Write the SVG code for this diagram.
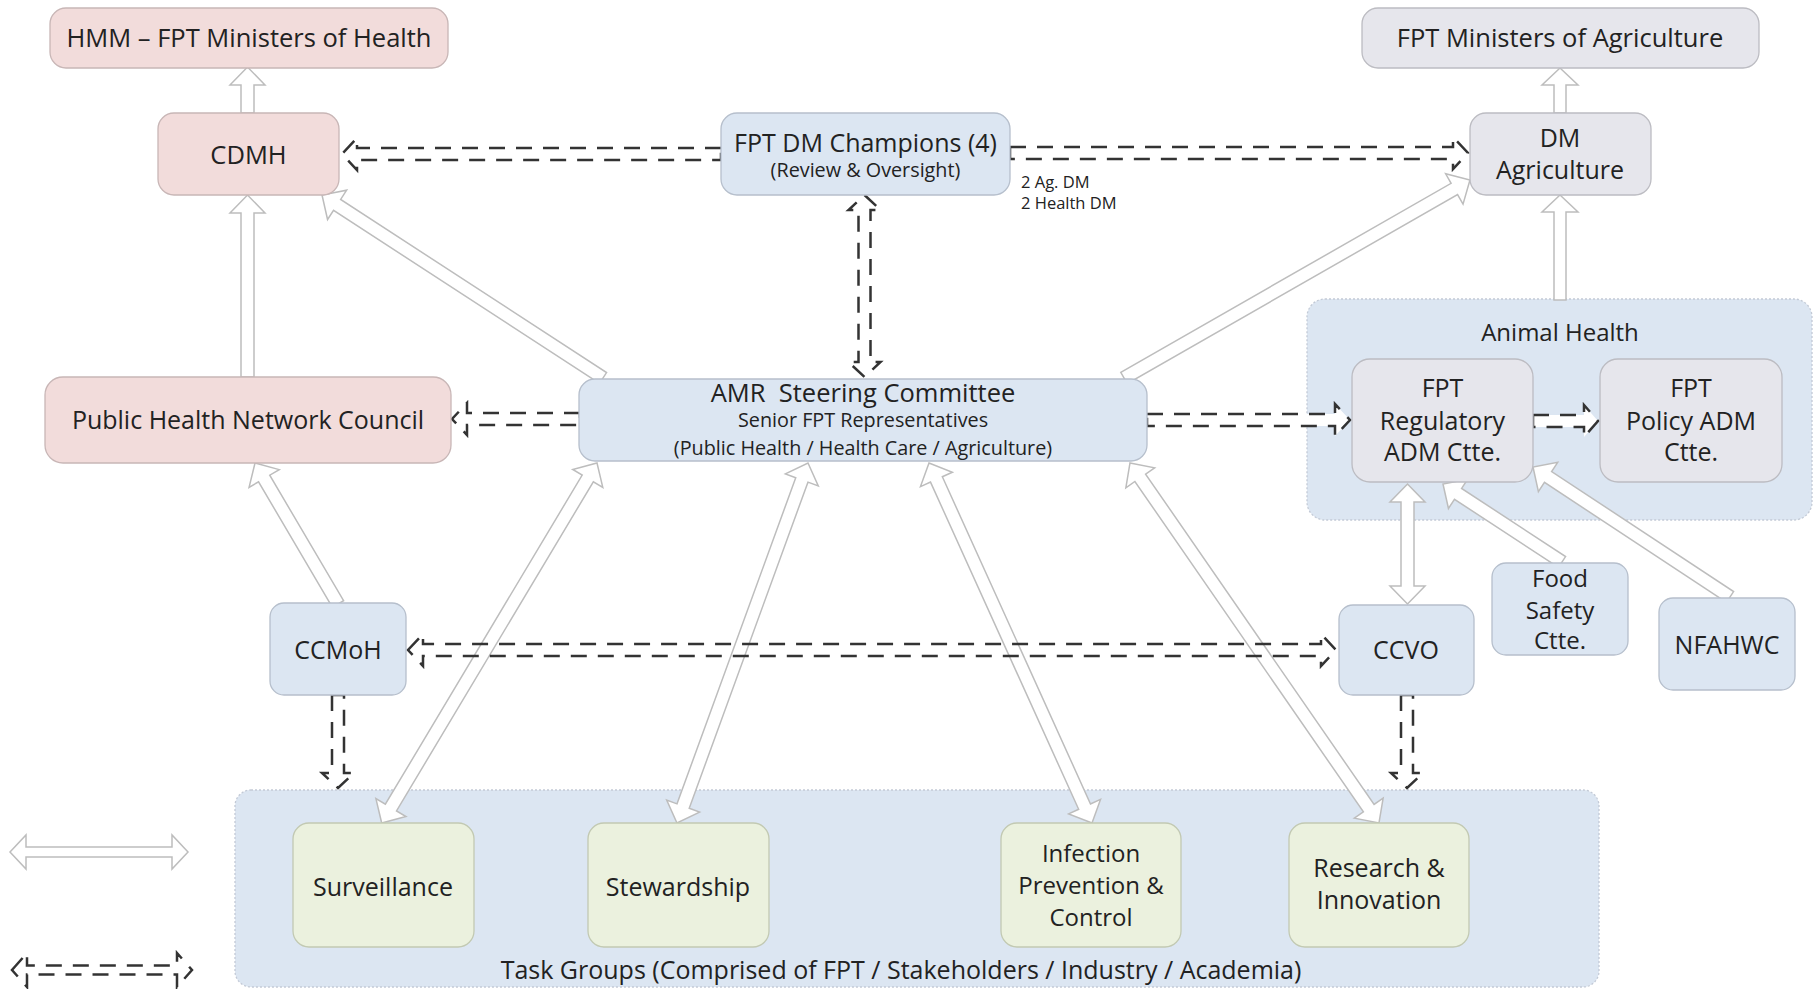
<svg xmlns="http://www.w3.org/2000/svg" width="1817" height="989" viewBox="0 0 1817 989">
<style>
text{font-family:"Open Sans",Lato,"Liberation Sans",sans-serif;fill:#222222;text-anchor:middle}
.t25{font-size:25px}
.t26{font-size:25.5px}
.t24{font-size:24px}
.t20{font-size:19.8px}
.t16{font-size:16.5px;text-anchor:start}
.pink{fill:#f2dcdb;stroke:#c8b6b6;stroke-width:1.3}
.blue{fill:#dce6f2;stroke:#b6bfcc;stroke-width:1.3}
.gray{fill:#e6e6ec;stroke:#bcbcc2;stroke-width:1.3}
.green{fill:#ebf1de;stroke:#c2c9b2;stroke-width:1.3}
.cont{fill:#dce6f2;stroke:#c3cad6;stroke-width:1.3;stroke-dasharray:2 2}
.wa{fill:#ffffff;stroke:#bdbdbd;stroke-width:1.5;stroke-linejoin:miter}
.da{fill:#ffffff;stroke:#333333;stroke-width:2.5;stroke-dasharray:16 11}
.dn{fill:none;stroke:#333333;stroke-width:2.5;stroke-dasharray:16 11}
</style>
<rect width="1817" height="989" fill="#ffffff"/>
<g id="animal-health">
<rect class="cont" x="1307" y="299" width="505" height="221" rx="18"/>
<text class="t24" x="1560" y="341">Animal Health</text>
</g>
<g id="task-groups">
<rect class="cont" x="235" y="790" width="1364" height="197" rx="16"/>
<text class="t25" x="901" y="979">Task Groups (Comprised of FPT / Stakeholders / Industry / Academia)</text>
</g>
<g id="connectors">
<polygon class="wa" points="241,113 241,85 230,85 247.5,67 265,85 254,85 254,113"/>
<polygon class="wa" points="241,377 241,213 230,213 247.5,195 265,213 254,213 254,377"/>
<polygon class="wa" points="1554,113 1554,85 1542,85 1560,68 1578,85 1566,85 1566,113"/>
<polygon class="wa" points="1554,300 1554,212 1542,212 1560,195 1578,212 1566,212 1566,300"/>
<polygon class="wa" transform="translate(603,378) rotate(213.07)" points="0,-6.5 317.3,-6.5 317.3,-17.5 335.3,0 317.3,17.5 317.3,6.5 0,6.5"/>
<polygon class="wa" transform="translate(1124,378) rotate(-29.78)" points="0,-6.5 380.6,-6.5 380.6,-17.5 398.6,0 380.6,17.5 380.6,6.5 0,6.5"/>
<polygon class="wa" transform="translate(338,604) rotate(-120.48)" points="0,-6.5 145.6,-6.5 145.6,-17.5 163.6,0 145.6,17.5 145.6,6.5 0,6.5"/>
<polygon class="wa" transform="translate(1562,562) rotate(-146.75)" points="0,-6.5 124.3,-6.5 124.3,-17.5 142.3,0 124.3,17.5 124.3,6.5 0,6.5"/>
<polygon class="wa" transform="translate(1730,597) rotate(-146.58)" points="0,-6.5 218,-6.5 218,-17.5 236,0 218,17.5 218,6.5 0,6.5"/>
<polygon class="wa" points="1407.5,484 1425,502 1414,502 1414,586 1425,586 1407.5,604 1390,586 1401,586 1401,502 1390,502"/>
<polygon class="wa" transform="translate(597,463) rotate(120.88)" points="0,0 18,-17.5 18,-6.5 401.5,-6.5 401.5,-17.5 419.5,0 401.5,17.5 401.5,6.5 18,6.5 18,17.5"/>
<polygon class="wa" transform="translate(808,463) rotate(110)" points="0,0 18,-17.5 18,-6.5 365.1,-6.5 365.1,-17.5 383.1,0 365.1,17.5 365.1,6.5 18,6.5 18,17.5"/>
<polygon class="wa" transform="translate(929,463) rotate(65.64)" points="0,0 18,-17.5 18,-6.5 377.2,-6.5 377.2,-17.5 395.2,0 377.2,17.5 377.2,6.5 18,6.5 18,17.5"/>
<polygon class="wa" transform="translate(1130,463) rotate(55.33)" points="0,0 18,-17.5 18,-6.5 419.7,-6.5 419.7,-17.5 437.7,0 419.7,17.5 419.7,6.5 18,6.5 18,17.5"/>
<polygon class="da" points="721,148 357,148 357,138 342,154 357,170 357,160 721,160"/>
<polygon class="da" points="1010,147 1453,147 1453,137 1468,153 1453,169 1453,159 1010,159"/>
<polygon class="da" points="864.5,195 880.5,210 870.5,210 870.5,362 880.5,362 864.5,377 848.5,362 858.5,362 858.5,210 848.5,210"/>
<polygon class="da" points="580,413 467,413 467,403 452,419 467,435 467,425 580,425"/>
<polygon class="da" points="1147,414 1335,414 1335,404 1350,420 1335,436 1335,426 1147,426"/>
<polygon class="da" points="1533,415 1584,415 1584,405 1598,421 1584,437 1584,427 1533,427"/>
<polygon class="dn" points="408,650 423,634 423,644 1321,644 1321,634 1336,650 1321,666 1321,656 423,656 423,666"/>
<polygon class="da" points="332,695 332,773 322,773 338,788 354,773 344,773 344,695"/>
<polygon class="da" points="1401,695 1401,773 1391,773 1407,788 1423,773 1413,773 1413,695"/>
</g>
<g id="legend">
<polygon class="wa" points="10,852 26,835 26,847 172,847 172,835 188,852 172,869 172,857 26,857 26,869"/>
<polygon class="da" points="12,970 27,953 27,965.5 177,965.5 177,953 192,970 177,987 177,974.5 27,974.5 27,987"/>
</g>
<g id="hmm">
<rect class="pink" x="50" y="8" width="398" height="60" rx="16"/>
<text class="t26" x="249" y="47">HMM – FPT Ministers of Health</text>
</g>
<g id="cdmh">
<rect class="pink" x="158" y="113" width="181" height="82" rx="16"/>
<text class="t26" x="248.5" y="164">CDMH</text>
</g>
<g id="champions">
<rect class="blue" x="721" y="113" width="289" height="82" rx="16"/>
<text class="t25" x="865.5" y="152">FPT DM Champions (4)</text>
<text class="t20" x="865.5" y="177">(Review &amp; Oversight)</text>
</g>
<g id="champions-note">
<text class="t16" x="1021" y="188">2 Ag. DM</text>
<text class="t16" x="1021" y="209">2 Health DM</text>
</g>
<g id="ministers-agriculture">
<rect class="gray" x="1362" y="8" width="397" height="60" rx="16"/>
<text class="t26" x="1560" y="47">FPT Ministers of Agriculture</text>
</g>
<g id="dm-agriculture">
<rect class="gray" x="1470" y="113" width="181" height="82" rx="16"/>
<text class="t25" x="1560" y="147">DM</text>
<text class="t25" x="1560" y="179">Agriculture</text>
</g>
<g id="phnc">
<rect class="pink" x="45" y="377" width="406" height="86" rx="18"/>
<text class="t25" x="248" y="429">Public Health Network Council</text>
</g>
<g id="amr">
<rect class="blue" x="579" y="379" width="568" height="82" rx="16"/>
<text class="t26" x="863" y="402" xml:space="preserve">AMR  Steering Committee</text>
<text class="t20" x="863" y="427">Senior FPT Representatives</text>
<text class="t20" x="863" y="455">(Public Health / Health Care / Agriculture)</text>
</g>
<g id="fpt-regulatory">
<rect class="gray" x="1352" y="359" width="181" height="123" rx="18"/>
<text class="t25" x="1442.5" y="397">FPT</text>
<text class="t25" x="1442.5" y="430">Regulatory</text>
<text class="t25" x="1442.5" y="461">ADM Ctte.</text>
</g>
<g id="fpt-policy">
<rect class="gray" x="1600" y="359" width="182" height="123" rx="18"/>
<text class="t25" x="1691" y="397">FPT</text>
<text class="t25" x="1691" y="430">Policy ADM</text>
<text class="t25" x="1691" y="461">Ctte.</text>
</g>
<g id="food-safety">
<rect class="blue" x="1492" y="563" width="136" height="92" rx="14"/>
<text class="t24" x="1560" y="587">Food</text>
<text class="t24" x="1560" y="619">Safety</text>
<text class="t24" x="1560" y="649">Ctte.</text>
</g>
<g id="nfahwc">
<rect class="blue" x="1659" y="598" width="136" height="92" rx="14"/>
<text class="t25" x="1727" y="654">NFAHWC</text>
</g>
<g id="ccmoh">
<rect class="blue" x="270" y="603" width="136" height="92" rx="14"/>
<text class="t25" x="338" y="659">CCMoH</text>
</g>
<g id="ccvo">
<rect class="blue" x="1339" y="605" width="135" height="90" rx="14"/>
<text class="t25" x="1406" y="659">CCVO</text>
</g>
<g id="surveillance">
<rect class="green" x="293" y="823" width="181" height="124" rx="16"/>
<text class="t25" x="383" y="896">Surveillance</text>
</g>
<g id="stewardship">
<rect class="green" x="588" y="823" width="181" height="124" rx="16"/>
<text class="t25" x="678" y="896">Stewardship</text>
</g>
<g id="ipc">
<rect class="green" x="1001" y="823" width="180" height="124" rx="16"/>
<text class="t24" x="1091" y="862">Infection</text>
<text class="t24" x="1091" y="894">Prevention &amp;</text>
<text class="t24" x="1091" y="926">Control</text>
</g>
<g id="research">
<rect class="green" x="1289" y="823" width="180" height="124" rx="16"/>
<text class="t25" x="1379" y="877">Research &amp;</text>
<text class="t25" x="1379" y="909">Innovation</text>
</g>
</svg>
